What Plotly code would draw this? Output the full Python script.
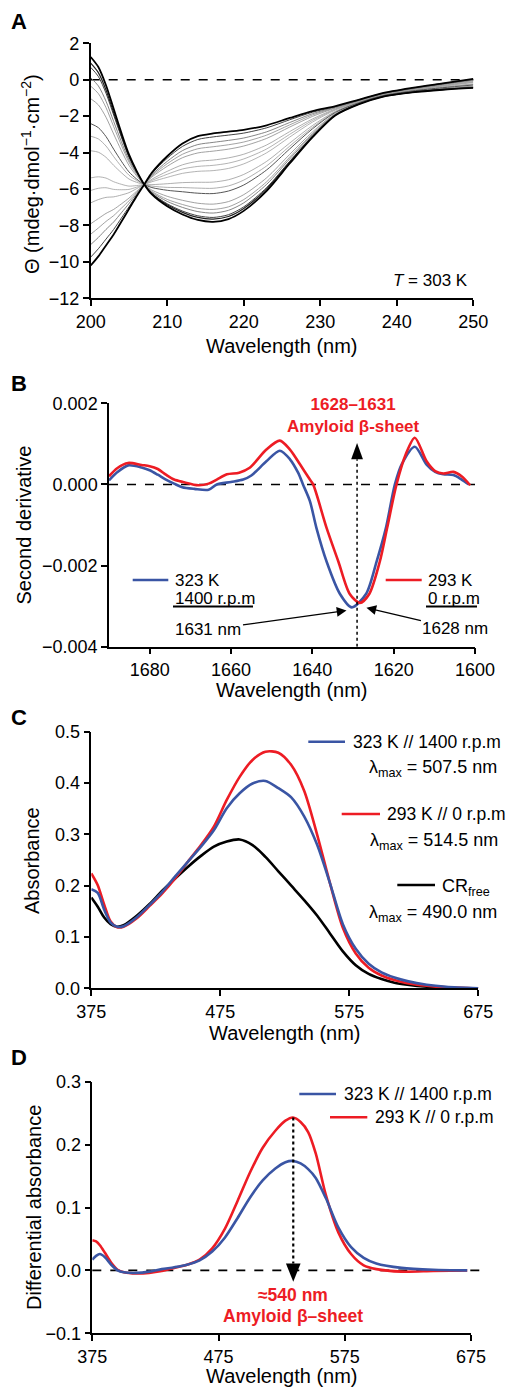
import plotly.graph_objects as go

W, H = 506, 1388
FONT = "Liberation Sans, Arial, Helvetica, sans-serif"
RED = "#ed1c24"
BLUE = "#3a55a4"

# ---------------- Panel A : CD spectra (T = 303 K) ----------------
cd_wavelength = [200, 201, 202, 203, 204, 205, 206, 207, 208, 210, 212, 214, 216, 218,
                 220, 223, 226, 229, 232, 235, 238, 242, 246, 250]
cd_beta = [1.25, 0.7, -0.3, -1.6, -2.9, -4.1, -5.0, -5.75, -6.3, -6.95, -7.4, -7.7, -7.8, -7.65,
           -7.2, -6.1, -4.6, -3.15, -1.95, -1.35, -0.95, -0.7, -0.55, -0.45]
cd_97 = [0.91, 0.39, -0.56, -1.81, -3.05, -4.19, -5.04, -5.75, -6.26, -6.87, -7.28, -7.56, -7.65, -7.51,
         -7.07, -5.99, -4.53, -3.11, -1.94, -1.34, -0.94, -0.69, -0.54, -0.44]
cd_95 = [0.68, 0.18, -0.74, -1.94, -3.14, -4.25, -5.07, -5.75, -6.24, -6.81, -7.21, -7.47, -7.56, -7.41,
         -6.98, -5.92, -4.48, -3.08, -1.93, -1.34, -0.94, -0.69, -0.53, -0.43]
cd_90 = [0.11, -0.34, -1.18, -2.29, -3.39, -4.4, -5.14, -5.75, -6.18, -6.68, -7.01, -7.24, -7.32, -7.17,
         -6.76, -5.74, -4.35, -3.01, -1.9, -1.33, -0.93, -0.68, -0.52, -0.4]
cd_86 = [-0.35, -0.76, -1.53, -2.57, -3.59, -4.52, -5.2, -5.75, -6.13, -6.57, -6.85, -7.06, -7.12, -6.98,
         -6.58, -5.6, -4.25, -2.95, -1.88, -1.32, -0.92, -0.67, -0.5, -0.38]
cd_80 = [-1.04, -1.38, -2.06, -2.98, -3.88, -4.7, -5.28, -5.75, -6.06, -6.4, -6.62, -6.78, -6.83, -6.69,
         -6.31, -5.38, -4.1, -2.86, -1.85, -1.3, -0.91, -0.65, -0.48, -0.35]
cd_68 = [-2.41, -2.63, -3.12, -3.81, -4.47, -5.06, -5.45, -5.75, -5.92, -6.07, -6.15, -6.23, -6.25, -6.11,
         -5.78, -4.95, -3.8, -2.69, -1.79, -1.27, -0.89, -0.62, -0.44, -0.29]
cd_62 = [-3.1, -3.25, -3.64, -4.22, -4.76, -5.24, -5.53, -5.75, -5.84, -5.91, -5.92, -5.95, -5.96, -5.83,
         -5.51, -4.73, -3.65, -2.61, -1.76, -1.26, -0.87, -0.61, -0.42, -0.26]
cd_55 = [-3.9, -3.98, -4.26, -4.7, -5.1, -5.45, -5.63, -5.75, -5.76, -5.71, -5.65, -5.63, -5.62, -5.49,
         -5.2, -4.48, -3.48, -2.51, -1.73, -1.24, -0.86, -0.59, -0.39, -0.23]
cd_42 = [-5.39, -5.33, -5.4, -5.6, -5.74, -5.84, -5.81, -5.75, -5.6, -5.36, -5.14, -5.03, -4.99, -4.87,
         -4.62, -4.01, -3.15, -2.32, -1.66, -1.21, -0.83, -0.56, -0.35, -0.16]
cd_36 = [-6.08, -5.96, -5.93, -6.02, -6.04, -6.02, -5.9, -5.75, -5.53, -5.19, -4.9, -4.76, -4.7, -4.58,
         -4.35, -3.8, -3.0, -2.23, -1.63, -1.19, -0.82, -0.54, -0.33, -0.13]
cd_30 = [-6.76, -6.58, -6.46, -6.43, -6.33, -6.2, -5.98, -5.75, -5.46, -5.03, -4.67, -4.48, -4.41, -4.29,
         -4.09, -3.58, -2.85, -2.15, -1.6, -1.18, -0.81, -0.53, -0.31, -0.1]
cd_20 = [-7.91, -7.62, -7.34, -7.12, -6.82, -6.5, -6.12, -5.75, -5.34, -4.75, -4.28, -4.02, -3.92, -3.81,
         -3.64, -3.22, -2.6, -2.01, -1.55, -1.15, -0.79, -0.5, -0.27, -0.05]
cd_15 = [-8.48, -8.14, -7.78, -7.46, -7.06, -6.65, -6.19, -5.75, -5.28, -4.61, -4.09, -3.79, -3.68, -3.57,
         -3.42, -3.04, -2.48, -1.93, -1.53, -1.14, -0.78, -0.49, -0.25, -0.03]
cd_10 = [-9.05, -8.66, -8.22, -7.81, -7.31, -6.8, -6.26, -5.75, -5.22, -4.48, -3.89, -3.56, -3.44, -3.33,
         -3.2, -2.86, -2.35, -1.86, -1.5, -1.13, -0.77, -0.48, -0.24, 0.0]
cd_04 = [-9.74, -9.28, -8.75, -8.22, -7.6, -6.98, -6.34, -5.75, -5.15, -4.31, -3.66, -3.28, -3.14, -3.04,
         -2.93, -2.64, -2.2, -1.78, -1.47, -1.11, -0.76, -0.46, -0.21, 0.03]
cd_coil = [-10.2, -9.7, -9.1, -8.5, -7.8, -7.1, -6.4, -5.75, -5.1, -4.2, -3.5, -3.1, -2.95, -2.85,
           -2.75, -2.5, -2.1, -1.72, -1.45, -1.1, -0.75, -0.45, -0.2, 0.05]
a_xticks = [200, 210, 220, 230, 240, 250]
a_yticks = [-12, -10, -8, -6, -4, -2, 0, 2]

# ---------------- Panel B : FTIR second derivative ----------------
ftir_wl_323 = [1690, 1688, 1685.3, 1682, 1680, 1678, 1676, 1674, 1672, 1669, 1665.5, 1663.5, 1660, 1657,
               1655, 1651.3, 1648, 1645.5, 1643.5, 1642.3, 1640.6, 1639, 1636.5, 1633.2, 1630.3, 1626.8,
               1624.2, 1621.9, 1619.7, 1618, 1614.8, 1611.9, 1609.8, 1607.8, 1605.3, 1603.3, 1601.5]
ftir_323 = [0.10e-3, 0.30e-3, 0.47e-3, 0.42e-3, 0.35e-3, 0.24e-3, 0.12e-3, 0.02e-3, -0.07e-3, -0.11e-3,
            -0.13e-3, 0.00, 0.06e-3, 0.12e-3, 0.22e-3, 0.57e-3, 0.83e-3, 0.62e-3, 0.29e-3, 0.00,
            -0.41e-3, -1.07e-3, -1.90e-3, -2.70e-3, -3.03e-3, -2.70e-3, -1.90e-3, -1.07e-3, 0.00,
            0.50e-3, 0.93e-3, 0.49e-3, 0.31e-3, 0.25e-3, 0.23e-3, 0.12e-3, 0.00]
ftir_wl_293 = [1690, 1688, 1685.3, 1682, 1680, 1678, 1676, 1674, 1671.8, 1668, 1665.5, 1663.5, 1661, 1658,
               1655.4, 1651.3, 1648, 1645.5, 1643, 1640.6, 1639.8, 1636.5, 1633.6, 1630.8, 1628.3, 1626,
               1623.4, 1621.6, 1619.3, 1617, 1614.8, 1611.9, 1609.8, 1607.8, 1605.3, 1603.3, 1601.2]
ftir_293 = [0.20e-3, 0.40e-3, 0.53e-3, 0.48e-3, 0.45e-3, 0.38e-3, 0.24e-3, 0.12e-3, 0.06e-3, -0.02e-3,
            0.02e-3, 0.12e-3, 0.25e-3, 0.29e-3, 0.41e-3, 0.86e-3, 1.08e-3, 0.86e-3, 0.49e-3, 0.12e-3,
            0.00, -1.07e-3, -1.90e-3, -2.70e-3, -2.92e-3, -2.70e-3, -1.90e-3, -1.07e-3, 0.00,
            0.75e-3, 1.15e-3, 0.57e-3, 0.33e-3, 0.27e-3, 0.31e-3, 0.20e-3, -0.02e-3]
ftir_band = 1629
b_xticks = [1680, 1660, 1640, 1620, 1600]
b_yticks = [-0.004, -0.002, 0.0, 0.002]

# ---------------- Panel C : Congo red absorbance ----------------
vis_wl = [375, 380, 385, 390, 395, 400, 410, 420, 430, 440, 450, 460, 470, 480, 490, 500, 510, 520,
          530, 540, 550, 560, 570, 580, 590, 600, 610, 620, 635, 650, 675]
abs_323 = [0.193, 0.186, 0.153, 0.128, 0.12, 0.121, 0.138, 0.162, 0.188, 0.218, 0.247, 0.276, 0.308,
           0.351, 0.38, 0.399, 0.404, 0.39, 0.372, 0.335, 0.28, 0.205, 0.125, 0.077, 0.048, 0.031,
           0.021, 0.014, 0.007, 0.003, 0.0]
abs_293 = [0.224, 0.201, 0.163, 0.13, 0.119, 0.12, 0.136, 0.16, 0.185, 0.214, 0.247, 0.279, 0.315,
           0.367, 0.412, 0.445, 0.461, 0.459, 0.435, 0.385, 0.3, 0.205, 0.118, 0.068, 0.04, 0.025,
           0.016, 0.01, 0.005, 0.002, 0.0]
abs_free = [0.177, 0.159, 0.138, 0.125, 0.12, 0.123, 0.141, 0.164, 0.19, 0.214, 0.237, 0.258, 0.276,
            0.286, 0.29, 0.279, 0.256, 0.228, 0.2, 0.172, 0.142, 0.107, 0.072, 0.045, 0.028, 0.018,
            0.011, 0.007, 0.003, 0.001, 0.0]
c_xticks = [375, 475, 575, 675]
c_yticks = [0.0, 0.1, 0.2, 0.3, 0.4, 0.5]

# ---------------- Panel D : differential absorbance ----------------
diff_wl = [375, 378, 381, 385, 390, 395, 400, 410, 420, 430, 440, 450, 460, 470, 480, 490, 500, 510,
           520, 528, 534, 540, 546, 552, 560, 570, 580, 590, 600, 620, 645, 672]
diff_323 = [0.017, 0.023, 0.026, 0.021, 0.009, 0.0, -0.003, -0.004, -0.002, 0.002, 0.005, 0.009, 0.016,
            0.03, 0.052, 0.083, 0.116, 0.143, 0.162, 0.172, 0.174, 0.17, 0.161, 0.147, 0.115, 0.068,
            0.037, 0.02, 0.011, 0.004, 0.001, 0.0]
diff_293 = [0.048, 0.046, 0.04, 0.028, 0.012, 0.001, -0.003, -0.005, -0.004, -0.001, 0.004, 0.009, 0.017,
            0.035, 0.066, 0.11, 0.156, 0.195, 0.222, 0.238, 0.243, 0.236, 0.22, 0.186, 0.12, 0.06,
            0.026, 0.008, 0.002, -0.002, -0.001, 0.0]
diff_band = 534.2
d_xticks = [375, 475, 575, 675]
d_yticks = [-0.1, 0.0, 0.1, 0.2, 0.3]


# ---------------- helpers ----------------
def px(x, y):
    return x / W, 1 - y / H


def dom_x(x0, x1):
    return [x0 / W, x1 / W]


def dom_y(ytop, ybot):
    return [1 - ybot / H, 1 - ytop / H]


fig = go.Figure()

# Panel A traces
a_styles = [
    (cd_42, "#a0a0a0", 0.8), (cd_36, "#a0a0a0", 0.8), (cd_55, "#9a9a9a", 0.8), (cd_62, "#9a9a9a", 0.8),
    (cd_30, "#9a9a9a", 0.8), (cd_20, "#8a8a8a", 0.8), (cd_15, "#8a8a8a", 0.8),
    (cd_80, "#8a8a8a", 0.8), (cd_86, "#8a8a8a", 0.8), (cd_68, "#555555", 1.0),
    (cd_90, "#777777", 0.9), (cd_10, "#777777", 0.9),
    (cd_95, "#444444", 1.0), (cd_04, "#444444", 1.0), (cd_97, "#222222", 1.2),
    (cd_beta, "#000000", 1.8), (cd_coil, "#000000", 1.8),
]
for ys, col, lw in a_styles:
    fig.add_trace(go.Scatter(x=cd_wavelength, y=ys, mode="lines", xaxis="x", yaxis="y",
                             line=dict(color=col, width=lw, shape="spline", smoothing=0.8),
                             showlegend=False, hoverinfo="skip"))

# Panel B traces
fig.add_trace(go.Scatter(x=ftir_wl_323, y=ftir_323, mode="lines", xaxis="x2", yaxis="y2",
                         line=dict(color=BLUE, width=2.6, shape="spline", smoothing=0.8),
                         showlegend=False))
fig.add_trace(go.Scatter(x=ftir_wl_293, y=ftir_293, mode="lines", xaxis="x2", yaxis="y2",
                         line=dict(color=RED, width=2.6, shape="spline", smoothing=0.8),
                         showlegend=False))

# Panel C traces
fig.add_trace(go.Scatter(x=vis_wl, y=abs_free, mode="lines", xaxis="x3", yaxis="y3",
                         line=dict(color="black", width=2.6, shape="spline", smoothing=0.8),
                         showlegend=False))
fig.add_trace(go.Scatter(x=vis_wl, y=abs_293, mode="lines", xaxis="x3", yaxis="y3",
                         line=dict(color=RED, width=2.6, shape="spline", smoothing=0.8),
                         showlegend=False))
fig.add_trace(go.Scatter(x=vis_wl, y=abs_323, mode="lines", xaxis="x3", yaxis="y3",
                         line=dict(color=BLUE, width=2.6, shape="spline", smoothing=0.8),
                         showlegend=False))

# Panel D traces
fig.add_trace(go.Scatter(x=diff_wl, y=diff_293, mode="lines", xaxis="x4", yaxis="y4",
                         line=dict(color=RED, width=2.6, shape="spline", smoothing=0.8),
                         showlegend=False))
fig.add_trace(go.Scatter(x=diff_wl, y=diff_323, mode="lines", xaxis="x4", yaxis="y4",
                         line=dict(color=BLUE, width=2.6, shape="spline", smoothing=0.8),
                         showlegend=False))

axis_common = dict(showline=True, linecolor="black", linewidth=1.5, ticks="outside", ticklen=6,
                   tickwidth=1.5, tickcolor="black", showgrid=False, zeroline=False,
                   tickfont=dict(size=18, color="black", family=FONT), automargin=False)

fig.update_layout(
    width=W, height=H, margin=dict(l=0, r=0, t=0, b=0),
    paper_bgcolor="white", plot_bgcolor="white", template="none",
    font=dict(family=FONT, color="black", size=18), showlegend=False,
    xaxis=dict(domain=dom_x(90.7, 473.3), anchor="y", range=[200, 250], tickvals=a_xticks, **axis_common),
    yaxis=dict(domain=dom_y(43.3, 298.3), anchor="x", range=[-12, 2], tickvals=a_yticks, **axis_common),
    xaxis2=dict(domain=dom_x(109, 475), anchor="y2", range=[1690, 1600], tickvals=b_xticks, **axis_common),
    yaxis2=dict(domain=dom_y(403.3, 646.7), anchor="x2", range=[-0.004, 0.002], tickvals=b_yticks,
                tickformat=".3f", **axis_common),
    xaxis3=dict(domain=dom_x(91.3, 478.3), anchor="y3", range=[375, 675], tickvals=c_xticks, **axis_common),
    yaxis3=dict(domain=dom_y(731.7, 988.3), anchor="x3", range=[0, 0.5], tickvals=c_yticks,
                tickformat=".1f", **axis_common),
    xaxis4=dict(domain=dom_x(92.3, 471), anchor="y4", range=[375, 675], tickvals=d_xticks, **axis_common),
    yaxis4=dict(domain=dom_y(1081.7, 1333.3), anchor="x4", range=[-0.1, 0.3], tickvals=d_yticks,
                tickformat=".1f", **axis_common),
)

shapes = []
# dashed zero lines
for xr, yr, x1 in [("x domain", "y", 1), ("x2 domain", "y2", 1), ("x4 domain", "y4", 1.025)]:
    shapes.append(dict(type="line", xref=xr, yref=yr, x0=0, x1=x1, y0=0, y1=0,
                       line=dict(color="black", width=1.6, dash="dash"), layer="below"))
# Panel B dotted marker line + arrowhead
b_tip, b_base = 1.02e-3, 0.62e-3
shapes.append(dict(type="line", xref="x2", yref="y2", x0=ftir_band, x1=ftir_band, y0=-0.004, y1=b_base,
                   line=dict(color="black", width=1.5, dash="dot")))
shapes.append(dict(type="path", xref="x2", yref="y2", fillcolor="black", line=dict(width=0),
                   path=f"M {ftir_band - 1.45},{b_base} L {ftir_band + 1.45},{b_base} L {ftir_band},{b_tip} Z"))
# Panel D dotted marker line + arrowhead
d_top = max(diff_293)
d_base, d_tip = 0.011, -0.018
shapes.append(dict(type="line", xref="x4", yref="y4", x0=diff_band, x1=diff_band, y0=d_top, y1=d_base,
                   line=dict(color="black", width=2.2, dash="dot")))
shapes.append(dict(type="path", xref="x4", yref="y4", fillcolor="black", line=dict(width=0),
                   path=f"M {diff_band - 5.8},{d_base} L {diff_band + 5.8},{d_base} L {diff_band},{d_tip} Z"))


def key(x0, x1, y, color, width=2.6):
    a, b = px(x0, y)
    c, _ = px(x1, y)
    shapes.append(dict(type="line", xref="paper", yref="paper", x0=a, x1=c, y0=b, y1=b,
                       line=dict(color=color, width=width)))


# legend keys
key(132.7, 168.3, 580, BLUE)
key(385.7, 421.7, 580, RED)
key(173, 253, 606.5, "black", 1.8)
key(426, 477, 606.5, "black", 1.8)
key(308.3, 345, 741.7, BLUE)
key(341.7, 380, 814, RED)
key(397.3, 435, 885, "black")
key(299.3, 336, 1094, BLUE)
key(330, 367.3, 1117.3, RED)

annotations = []


def text(x, y, s, size=18, anchor="left", color="black", angle=0, bold=False):
    xx, yy = px(x, y)
    if bold:
        s = f"<b>{s}</b>"
    annotations.append(dict(x=xx, y=yy, xref="paper", yref="paper", text=s, showarrow=False,
                            xanchor=anchor, yanchor="middle", textangle=angle,
                            font=dict(size=size, color=color, family=FONT)))


# panel letters
for letter, yy in [("A", 22), ("B", 383), ("C", 717.5), ("D", 1057.5)]:
    text(19, yy, letter, size=22, anchor="center", bold=True)

# axis titles
text(282, 346, "Wavelength (nm)", size=20, anchor="center")
text(292, 690, "Wavelength (nm)", size=20, anchor="center")
text(285, 1033, "Wavelength (nm)", size=20, anchor="center")
text(282, 1376, "Wavelength (nm)", size=20, anchor="center")
text(31, 174, "Θ (mdeg·dmol<sup>−1</sup>·cm<sup>−2</sup>)", size=20, anchor="center", angle=-90)
text(23.5, 525, "Second derivative", size=20, anchor="center", angle=-90)
text(32, 860, "Absorbance", size=20, anchor="center", angle=-90)
text(33.5, 1207.5, "Differential absorbance", size=20, anchor="center", angle=-90)

# Panel A
text(470, 280, "<i>T</i> = 303 K", size=17, anchor="right")

# Panel B
text(353.3, 415.5, "1628–1631<br>Amyloid β-sheet", size=17, anchor="center", color=RED, bold=True)
text(173, 580, "323 K", size=17)
text(173, 598.3, "1400 r.p.m", size=17)
text(426, 580, "293 K", size=17)
text(426, 598.3, "0 r.p.m", size=17)
annotations.append(dict(x=1631.6, y=-3.11e-3, xref="x2", yref="y2", text="1631 nm", showarrow=True,
                        ax=-138, ay=19, arrowhead=2, arrowsize=1.5, arrowwidth=1.3, arrowcolor="black",
                        font=dict(size=17, color="black", family=FONT)))
annotations.append(dict(x=1626.7, y=-3.04e-3, xref="x2", yref="y2", text="1628 nm", showarrow=True,
                        ax=89, ay=21, arrowhead=2, arrowsize=1.5, arrowwidth=1.3, arrowcolor="black",
                        font=dict(size=17, color="black", family=FONT)))

# Panel C
text(350.7, 741.7, "323 K // 1400 r.p.m", size=17.5)
text(366.7, 768, "λ<sub>max</sub> = 507.5 nm", size=18)
text(385, 814, "293 K // 0 r.p.m", size=17.5)
text(368, 841, "λ<sub>max</sub> = 514.5 nm", size=18)
text(440, 887, "CR<sub>free</sub>", size=18)
text(366.7, 913, "λ<sub>max</sub> = 490.0 nm", size=18)

# Panel D
text(341.7, 1094, "323 K // 1400 r.p.m", size=17.5)
text(372.7, 1117.3, "293 K // 0 r.p.m", size=17.5)
text(293, 1295, "≈540 nm", size=17.5, anchor="center", color=RED, bold=True)
text(293, 1316, "Amyloid β–sheet", size=17.5, anchor="center", color=RED, bold=True)

fig.update_layout(shapes=shapes, annotations=annotations)
fig.write_html("out.html", config={"displayModeBar": False},
               post_script="document.body.style.margin='0';document.body.style.overflow='hidden';")
